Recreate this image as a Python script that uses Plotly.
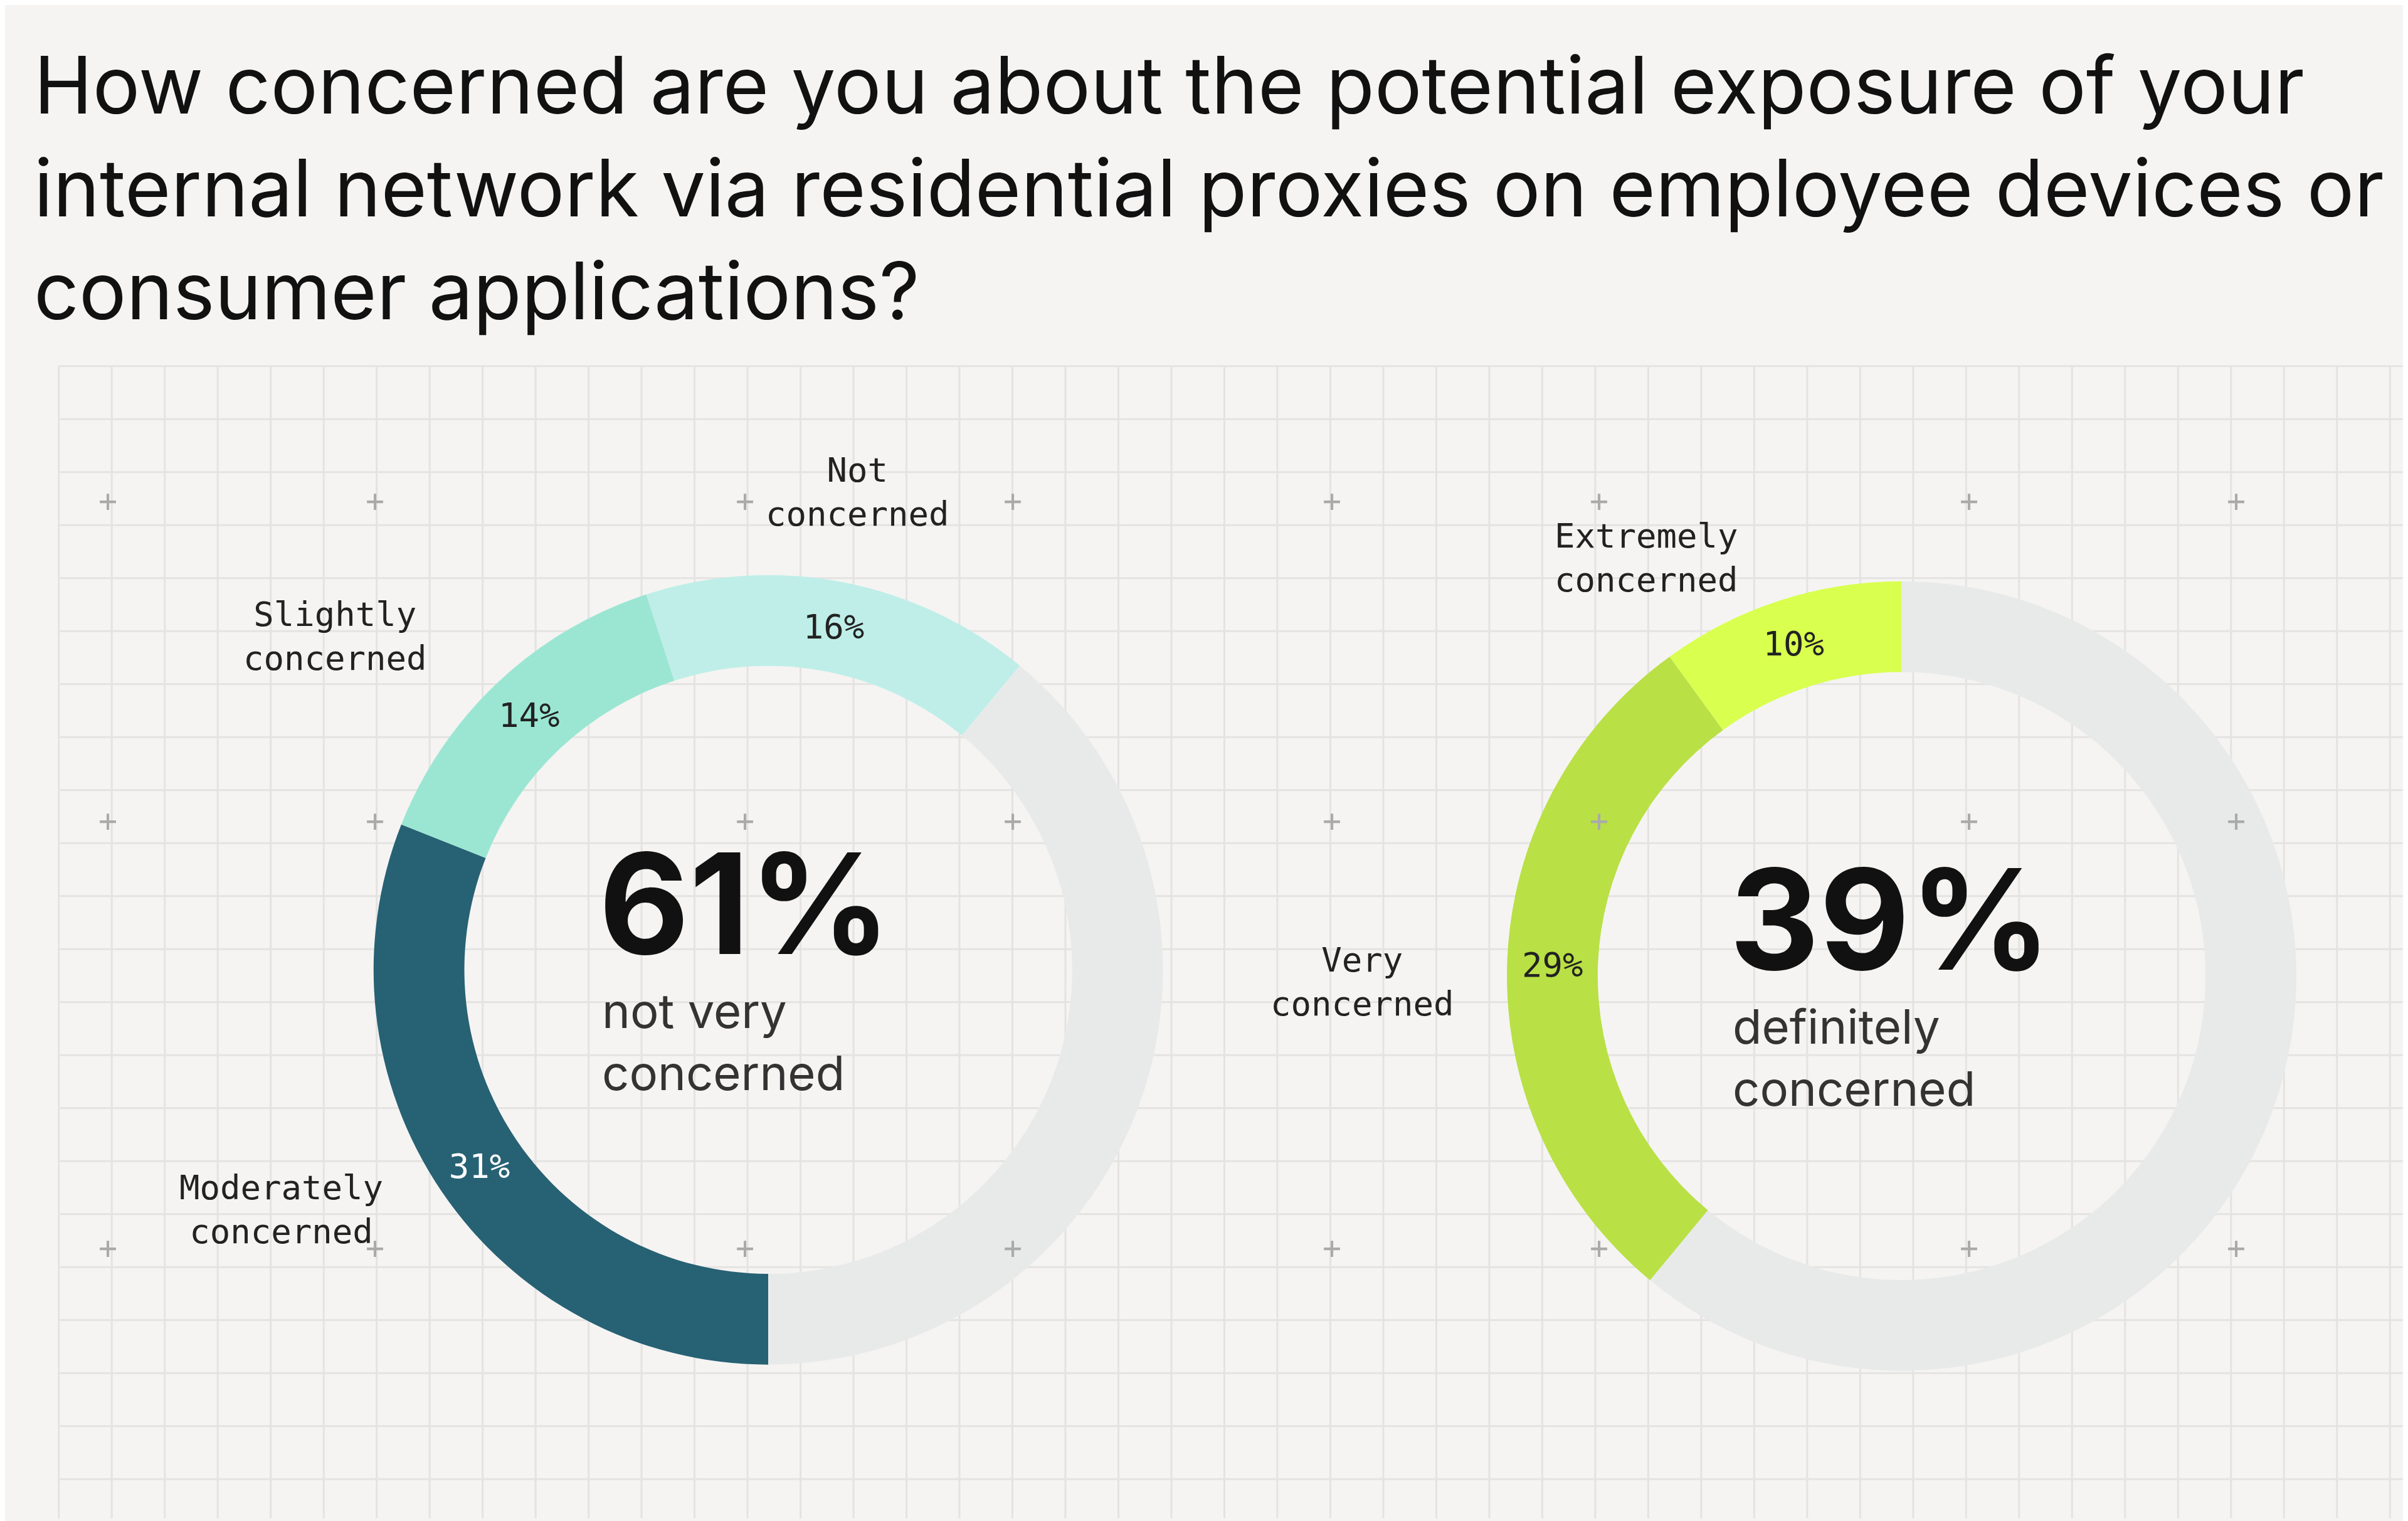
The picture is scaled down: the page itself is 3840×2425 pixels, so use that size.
import plotly.graph_objects as go

W, H = 3840, 2425

# Data
left_labels = ["Moderately concerned", "Slightly concerned", "Not concerned", "rest"]
left_values = [31, 14, 16, 39]
left_text = ["31%", "14%", "16%", ""]
right_labels = ["rest", "Very concerned", "Extremely concerned"]
right_values = [61, 29, 10]
right_text = ["", "29%", "10%"]
left_total = "61%"
right_total = "39%"

BG = "#f5f4f2"
GREY = "#e8eaea"
MONO = "DejaVu Sans Mono"
SANS = "Inter"


def px(x):
    return x / 1568


def py(y):
    return 1 - y / 990


fig = go.Figure()

fig.add_trace(go.Pie(
    labels=left_labels, values=left_values, text=left_text,
    texttemplate="%{text}", textposition="inside", insidetextorientation="horizontal",
    sort=False, direction="clockwise", rotation=180, hole=0.77,
    marker=dict(colors=["#276174", "#9be6d3", "#bfeee8", GREY]),
    textfont=dict(family=MONO, size=54, color=["white", "#222", "#222", GREY]),
    domain=dict(x=[px(240), px(754)], y=[py(885), py(371)]),
    hoverinfo="skip", showlegend=False))

fig.add_trace(go.Pie(
    labels=right_labels, values=right_values, text=right_text,
    texttemplate="%{text}", textposition="inside", insidetextorientation="horizontal",
    sort=False, direction="clockwise", rotation=0, hole=0.77,
    marker=dict(colors=[GREY, "#b9e045", "#d9ff4f"]),
    textfont=dict(family=MONO, size=54, color=[GREY, "#222", "#222"]),
    domain=dict(x=[px(978), px(1492)], y=[py(889), py(375)]),
    hoverinfo="skip", showlegend=False))

# background grid
shapes = []
x = 35
while x < 1568:
    shapes.append(dict(type="line", xref="paper", yref="paper", x0=px(x), x1=px(x),
                       y0=py(985), y1=py(235), line=dict(color="#e4e3e1", width=3), layer="below"))
    x += 34.5
y = 235
while y < 985:
    shapes.append(dict(type="line", xref="paper", yref="paper", x0=px(35), x1=1,
                       y0=py(y), y1=py(y), line=dict(color="#e4e3e1", width=3), layer="below"))
    y += 34.5

annotations = []
for xs in [67, 241, 482, 656, 864, 1038, 1279, 1453]:
    for ys in [323, 531, 809]:
        annotations.append(dict(x=px(xs), y=py(ys), xref="paper", yref="paper", text="+",
                                xanchor="center", yanchor="middle", showarrow=False,
                                font=dict(family=MONO, size=50, color="#aaa")))

annotations.append(dict(x=px(18), y=py(20), xref="paper", yref="paper", xanchor="left", yanchor="top",
                        align="left", showarrow=False,
                        text="How concerned are you about the potential exposure of your<br>"
                             "internal network via residential proxies on employee devices or<br>"
                             "consumer applications?",
                        font=dict(family=SANS, size=126, color="#111")))

side = [("Not<br>concerned", 555, 317), ("Slightly<br>concerned", 215, 411),
        ("Moderately<br>concerned", 180, 784), ("Extremely<br>concerned", 1069, 360),
        ("Very<br>concerned", 884, 636)]
for t, xs, ys in side:
    annotations.append(dict(x=px(xs), y=py(ys), xref="paper", yref="paper", text=t, align="center",
                            xanchor="center", yanchor="middle", showarrow=False,
                            font=dict(family=MONO, size=54, color="#222")))

for big, small, xs, ys in [(left_total, "not very<br>concerned", 386, 585),
                           (right_total, "definitely<br>concerned", 1122, 595)]:
    annotations.append(dict(x=px(xs), y=py(ys), xref="paper", yref="paper", text="<b>" + big + "</b>",
                            xanchor="left", yanchor="middle", showarrow=False,
                            font=dict(family=SANS, size=222, color="#111")))
    annotations.append(dict(x=px(xs + 2), y=py(ys + 50), xref="paper", yref="paper", text=small,
                            xanchor="left", yanchor="top", align="left", showarrow=False,
                            font=dict(family=SANS, size=76, color="#333")))

fig.update_layout(width=W, height=H, paper_bgcolor=BG, plot_bgcolor=BG,
                  margin=dict(l=0, r=0, t=0, b=0), shapes=shapes, annotations=annotations)
fig.write_html("out.html")
